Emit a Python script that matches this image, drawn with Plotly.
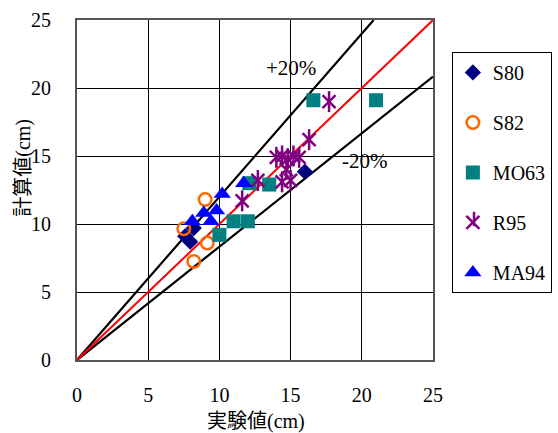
import plotly.graph_objects as go

# Measured (実験値) vs. computed (計算値) values, cm
s80_x = [7.6, 7.95, 8.2, 16.0]
s80_y = [9.1, 8.7, 9.7, 13.85]

s82_x = [9.0, 7.5, 9.15, 8.2]
s82_y = [11.8, 9.65, 8.6, 7.25]

mo63_x = [10.0, 11.0, 12.0, 12.1, 13.5, 16.6, 21.0]
mo63_y = [9.2, 10.2, 10.2, 13.0, 12.9, 19.1, 19.1]

r95_x = [11.6, 12.7, 14.4, 15.0, 14.7, 14.0, 14.4, 14.8, 15.2, 15.6, 16.3, 17.7]
r95_y = [11.7, 13.2, 13.1, 13.2, 14.0, 14.9, 15.0, 14.8, 15.0, 14.9, 16.2, 19.0]

ma94_x = [8.1, 8.9, 9.4, 9.8, 10.2, 11.7]
ma94_y = [10.2, 10.8, 10.2, 11.0, 12.2, 13.0]

axis_max = 25
band = 1.2  # ±20 % band factor
band_labels = ["+20%", "-20%"]
x_title = "実験値"
y_title = "計算値"

serif = "Liberation Serif"
jp = "Noto Sans CJK JP"
purple = "#800080"

fig = go.Figure()

# reference lines: 1:1 and ±20 %
fig.add_trace(go.Scatter(x=[0, axis_max / band], y=[0, axis_max], mode="lines",
                         line=dict(color="black", width=2.2), showlegend=False, hoverinfo="skip"))
fig.add_trace(go.Scatter(x=[0, axis_max], y=[0, axis_max / band], mode="lines",
                         line=dict(color="black", width=2.2), showlegend=False, hoverinfo="skip"))
fig.add_trace(go.Scatter(x=[0, axis_max], y=[0, axis_max], mode="lines",
                         line=dict(color="red", width=2), showlegend=False, hoverinfo="skip"))

fig.add_trace(go.Scatter(x=s80_x, y=s80_y, mode="markers", name="S80", legendgroup="a",
                         marker=dict(symbol="diamond", size=12.5, color="#000080")))
fig.add_trace(go.Scatter(x=s82_x, y=s82_y, mode="markers", name="S82", legendgroup="b",
                         marker=dict(symbol="circle-open", size=12.5, color="#FF6600",
                                     line=dict(width=2.5, color="#FF6600"))))
fig.add_trace(go.Scatter(x=mo63_x, y=mo63_y, mode="markers", name="MO63", legendgroup="c",
                         marker=dict(symbol="square", size=14, color="#008080")))
# six-spoke asterisk: an X plus a vertical stroke
fig.add_trace(go.Scatter(x=r95_x, y=r95_y, mode="markers", name="R95", legendgroup="d",
                         marker=dict(symbol="x-thin-open", size=13, color=purple,
                                     line=dict(width=2.5, color=purple))))
fig.add_trace(go.Scatter(x=r95_x, y=r95_y, mode="markers", name="R95", legendgroup="d",
                         showlegend=False,
                         marker=dict(symbol="line-ns-open", size=15, color=purple,
                                     line=dict(width=2.5, color=purple))))
fig.add_trace(go.Scatter(x=ma94_x, y=ma94_y, mode="markers", name="MA94", legendgroup="e",
                         marker=dict(symbol="triangle-up", size=15, color="#0000FF")))

fig.add_annotation(x=15.0, y=21.5, text=band_labels[0], showarrow=False,
                   font=dict(family=serif, size=21, color="black"))
fig.add_annotation(x=20.2, y=14.6, text=band_labels[1], showarrow=False,
                   font=dict(family=serif, size=21, color="black"))

cm_part = "<span style=\"font-family:'Liberation Serif', serif\">(cm)</span>"

# axis titles
fig.add_annotation(xref="paper", yref="paper", x=0.503, y=-0.176, text=x_title + cm_part,
                   xanchor="center", yanchor="middle",
                   showarrow=False, font=dict(family=jp, size=20, color="black"))
fig.add_annotation(xref="paper", yref="paper", x=-0.155, y=0.565, text=y_title + cm_part,
                   xanchor="center", yanchor="middle",
                   textangle=-90, showarrow=False, font=dict(family=jp, size=20, color="black"))

# vertical stroke completing the R95 legend glyph (legend background left transparent)
fig.add_shape(type="line", xref="paper", yref="paper",
              x0=1.1152, x1=1.1152, y0=0.4147 - 0.021, y1=0.4147 + 0.021,
              line=dict(color=purple, width=2.5))

axis_common = dict(range=[0, axis_max], dtick=5, showgrid=True, gridcolor="black", gridwidth=1,
                   showline=True, linecolor="#555555", linewidth=2, mirror=True,
                   zeroline=False, ticks="",
                   tickfont=dict(family=serif, size=20, color="black"))

fig.update_layout(
    width=558, height=433,
    margin=dict(l=77, r=125, t=20, b=73, autoexpand=False),
    paper_bgcolor="white", plot_bgcolor="white",
    xaxis=dict(**axis_common, ticklabelstandoff=16),
    yaxis=dict(**axis_common, ticklabelstandoff=20),
    legend=dict(x=1.053, y=0.906, xanchor="left", yanchor="top",
                bordercolor="black", borderwidth=1, bgcolor="rgba(0,0,0,0)",
                font=dict(family=serif, size=20, color="black"),
                traceorder="grouped", tracegroupgap=21, itemwidth=30),
    showlegend=True,
)

fig.write_html("out.html")
